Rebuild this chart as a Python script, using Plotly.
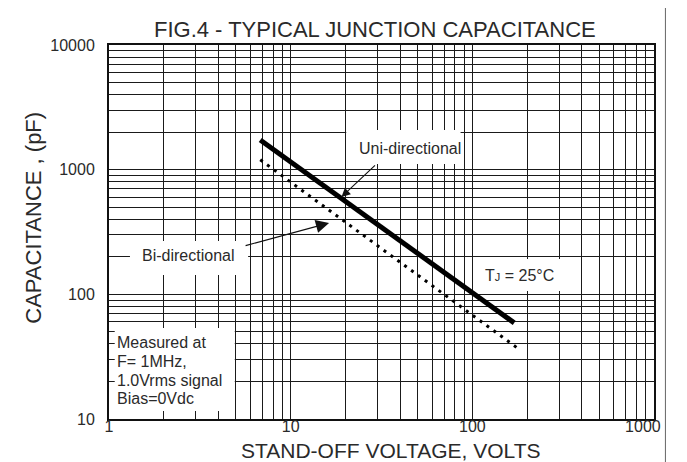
import plotly.graph_objects as go

# ---- data ----
uni_voltage = [6.8, 170]
uni_capacitance = [1730, 59]
bi_voltage = [6.8, 182]
bi_capacitance = [1200, 36]

x_tickvals = [1, 2, 3, 4, 5, 6, 7, 8, 9,
              10, 20, 30, 40, 50, 60, 70, 80, 90,
              100, 200, 300, 400, 500, 600, 700, 800, 900, 1000]
x_ticktext = ["1"] + [""] * 8 + ["10"] + [""] * 8 + ["100"] + [""] * 8 + ["1000" + "\u00a0" * 5]
y_tickvals = [10, 20, 30, 40, 50, 60, 70, 80, 90,
              100, 200, 300, 400, 500, 600, 700, 800, 900,
              1000, 2000, 3000, 4000, 5000, 6000, 7000, 8000, 9000, 10000]
y_ticktext = ["10"] + [""] * 8 + ["100"] + [""] * 8 + ["1000"] + [""] * 8 + ["10000"]

FONT = "Liberation Sans, Arial, sans-serif"
TXT = "#2a2a2a"
GRID = "#1a1a1a"

# plot area in pixels (for placing notes)
L, R, T, B = 101, 673, 37, 411
W, H = R - L, B - T


def px(x):
    return (x - L) / W


def py(y):
    return (B - y) / H


fig = go.Figure()
fig.add_trace(go.Scatter(x=uni_voltage, y=uni_capacitance, mode="lines",
                         line=dict(color="black", width=5), showlegend=False))
fig.add_trace(go.Scatter(x=bi_voltage, y=bi_capacitance, mode="lines",
                         line=dict(color="black", width=3, dash="3px,5.5px"), showlegend=False))

axis_common = dict(type="log", showgrid=True, gridcolor=GRID, gridwidth=1.2,
                   showline=True, linecolor="#111", linewidth=2, mirror=True,
                   ticks="", zeroline=False,
                   tickfont=dict(family=FONT, size=16, color=TXT))

fig.update_xaxes(range=[0, 3], tickmode="array", tickvals=x_tickvals,
                 ticktext=x_ticktext, tickangle=0, ticklabeloverflow="allow",
                 ticklabelstandoff=-8, **axis_common)
fig.update_yaxes(range=[1, 4], tickmode="array", tickvals=y_tickvals,
                 ticktext=y_ticktext, ticklabelstandoff=9, **axis_common)

# white boxes behind the notes
boxes = [
    (350, 122, 470, 156),   # Uni-directional
    (123, 233, 247, 267),   # Bi-directional
    (490, 251, 576, 283),   # TJ
    (107, 320, 233, 403),   # Measured at
]
shapes = []
for x0, y0, x1, y1 in boxes:
    shapes.append(dict(type="rect", xref="paper", yref="paper",
                       x0=px(x0), x1=px(x1), y0=py(y1), y1=py(y0),
                       fillcolor="white", line=dict(width=0), layer="above"))
# outer image border at the right
shapes.append(dict(type="line", xref="paper", yref="paper",
                   x0=px(685), x1=px(685), y0=py(462), y1=py(0),
                   line=dict(color="#666", width=1)))

annotations = []


def note(text, x, y, size=16, xanchor="center", align="center"):
    annotations.append(dict(text=text, xref="paper", yref="paper",
                            x=px(x), y=py(y), xanchor=xanchor, yanchor="middle",
                            showarrow=False, align=align,
                            font=dict(family=FONT, size=size, color=TXT)))


note("FIG.4 - TYPICAL JUNCTION CAPACITANCE", 380, 21, size=22)
note("STAND-OFF VOLTAGE, VOLTS", 396, 443, size=21)
annotations.append(dict(text="CAPACITANCE , (pF)", xref="paper", yref="paper",
                        x=px(22), y=py(210), textangle=-90, showarrow=False,
                        xanchor="center", yanchor="middle",
                        font=dict(family=FONT, size=22, color=TXT)))
note("Uni-directional", 417, 140)
note("Bi-directional", 184, 247)
note("T<span style='font-size:11px'>J</span> = 25\u00b0C", 532, 267)
for txt, yy in [("Measured at", 334), ("F= 1MHz,", 353), ("1.0Vrms signal", 372), ("Bias=0Vdc", 390)]:
    note(txt, 107, yy, xanchor="left", align="left")

# arrows
annotations.append(dict(text="", xref="paper", yref="paper", x=px(345), y=py(189),
                        ax=35, ay=-33, showarrow=True, arrowhead=2, arrowsize=1.6,
                        arrowwidth=1.1, arrowcolor="#111", standoff=0))
annotations.append(dict(text="", xref="paper", yref="paper", x=px(332), y=py(215),
                        ax=-85, ay=23, showarrow=True, arrowhead=2, arrowsize=2.4,
                        arrowwidth=1.1, arrowcolor="#111", standoff=0))

fig.update_layout(width=687, height=462,
                  margin=dict(l=L, r=687 - R, t=T, b=462 - B),
                  paper_bgcolor="white", plot_bgcolor="white",
                  shapes=shapes, annotations=annotations, showlegend=False)

fig.write_html("out.html")
